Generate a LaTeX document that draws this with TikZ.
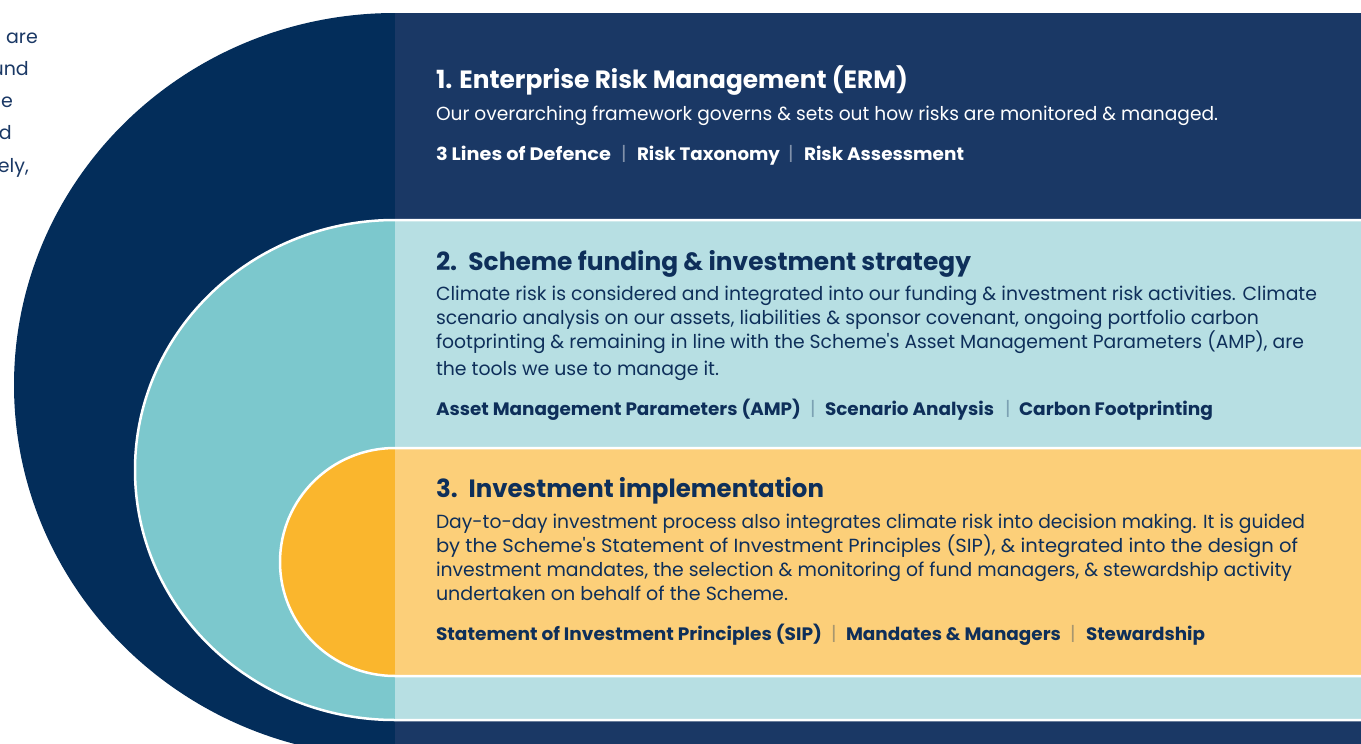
\documentclass[tikz,border=0pt]{standalone}
\usepackage{fontspec}
\setmainfont{Poppins}[Ligatures=TeXOff]
\usepackage{graphicx}
\definecolor{navyarc}{HTML}{032D5A}
\definecolor{navyrect}{HTML}{1A3865}
\definecolor{tealarc}{HTML}{7CC8CD}
\definecolor{teallight}{HTML}{B7DFE3}
\definecolor{yelarc}{HTML}{FAB62D}
\definecolor{yellight}{HTML}{FCCF79}
\definecolor{ink}{HTML}{0E2F5A}
\newcommand{\fitw}[2]{\resizebox{#1pt}{\height}{#2}}
\tikzset{
  txt/.style={anchor=base west, inner sep=0pt, outer sep=0pt},
  head/.style={txt, font=\fontsize{25}{30}\selectfont\bfseries},
  body/.style={txt, font=\fontsize{19}{24}\selectfont},
  tag/.style={txt, font=\fontsize{18}{22}\selectfont\bfseries},
  sepd/.style={anchor=base, inner sep=0pt, font=\fontsize{19}{22}\selectfont, text=white, text opacity=0.45},
  sepl/.style={anchor=base, inner sep=0pt, font=\fontsize{19}{22}\selectfont, text=ink, text opacity=0.35},
  lefttxt/.style={anchor=base east, inner sep=0pt, font=\fontsize{19}{24}\selectfont, text=navyrect},
  outline/.style={draw=white, line width=2.5pt}
}
\begin{document}
\begin{tikzpicture}[x=1pt,y=-1pt]
\useasboundingbox (0,0) rectangle (1361,744);
\clip (0,0) rectangle (1361,744);
\fill[white] (0,0) rectangle (1361,744);
% layer 1: dark
\fill[navyarc] (395,13) arc[start angle=270,end angle=90,x radius=381,y radius=372] -- cycle;
\fill[navyrect] (395,13) rectangle (1361,760);
% layer 2: teal
\fill[tealarc] (395,220) arc[start angle=270,end angle=90,x radius=260,y radius=250] -- cycle;
\fill[teallight] (395,220) rectangle (1361,720);
\draw[outline] (1361,220) -- (395,220) arc[start angle=270,end angle=90,x radius=260,y radius=250] -- (1361,720);
% layer 3: yellow
\fill[yelarc] (395,448) arc[start angle=270,end angle=90,x radius=115,y radius=114] -- cycle;
\fill[yellight] (395,448) rectangle (1361,676);
\draw[outline] (1361,448) -- (395,448) arc[start angle=270,end angle=90,x radius=115,y radius=114] -- (1361,676);

% left cut-off text
\node[lefttxt] (l1) at (38,43) {are};
\node[lefttxt] (l2) at (29,75) {und};
\node[lefttxt] (l3) at (13,107) {e};
\node[lefttxt] (l4) at (12,139) {d};
\node[lefttxt] (l5) at (29,172) {ely,};

% section 1
\node[head, text=white] (h1) at (436,88) {\fitw{472}{1. Enterprise Risk Management (ERM)}};
\node[body, text=white] (b1) at (436,120) {\fitw{782}{Our overarching framework governs \& sets out how risks are monitored \& managed.}};
\node[tag, text=white] (t11) at (436,160) {\fitw{175}{3 Lines of Defence}};
\node[sepd] (s11) at (624,160) {|};
\node[tag, text=white] (t12) at (637,160) {\fitw{143}{Risk Taxonomy}};
\node[sepd] (s12) at (791,160) {|};
\node[tag, text=white] (t13) at (804,160) {\fitw{160}{Risk Assessment}};

% section 2
\node[head, text=ink] (h2) at (436,270) {\fitw{535}{2.\hspace{0.45em}Scheme funding \& investment strategy}};
\node[body, text=ink] (b21) at (436,300) {\fitw{881}{Climate risk is considered and integrated into our funding \& investment risk activities. Climate}};
\node[body, text=ink] (b22) at (436,324) {\fitw{823}{scenario analysis on our assets, liabilities \& sponsor covenant, ongoing portfolio carbon}};
\node[body, text=ink] (b23) at (436,348) {\fitw{868}{footprinting \& remaining in line with the Scheme's Asset Management Parameters (AMP), are}};
\node[body, text=ink] (b24) at (436,375) {\fitw{283}{the tools we use to manage it.}};
\node[tag, text=ink] (t21) at (436,415) {\fitw{365}{Asset Management Parameters (AMP)}};
\node[sepl] (s21) at (813,415) {|};
\node[tag, text=ink] (t22) at (825,415) {\fitw{169}{Scenario Analysis}};
\node[sepl] (s22) at (1008,415) {|};
\node[tag, text=ink] (t23) at (1019,415) {\fitw{194}{Carbon Footprinting}};

% section 3
\node[head, text=ink] (h3) at (436,497) {\fitw{388}{3.\hspace{0.45em}Investment implementation}};
\node[body, text=ink] (b31) at (436,528) {\fitw{869}{Day-to-day investment process also integrates climate risk into decision making. It is guided}};
\node[body, text=ink] (b32) at (436,552) {\fitw{862}{by the Scheme's Statement of Investment Principles (SIP), \& integrated into the design of}};
\node[body, text=ink] (b33) at (436,576) {\fitw{856}{investment mandates, the selection \& monitoring of fund managers, \& stewardship activity}};
\node[body, text=ink] (b34) at (436,600) {\fitw{352}{undertaken on behalf of the Scheme.}};
\node[tag, text=ink] (t31) at (436,640) {\fitw{386}{Statement of Investment Principles (SIP)}};
\node[sepl] (s31) at (834,640) {|};
\node[tag, text=ink] (t32) at (846,640) {\fitw{215}{Mandates \& Managers}};
\node[sepl] (s32) at (1073,640) {|};
\node[tag, text=ink] (t33) at (1086,640) {\fitw{119}{Stewardship}};
\end{tikzpicture}
\end{document}
